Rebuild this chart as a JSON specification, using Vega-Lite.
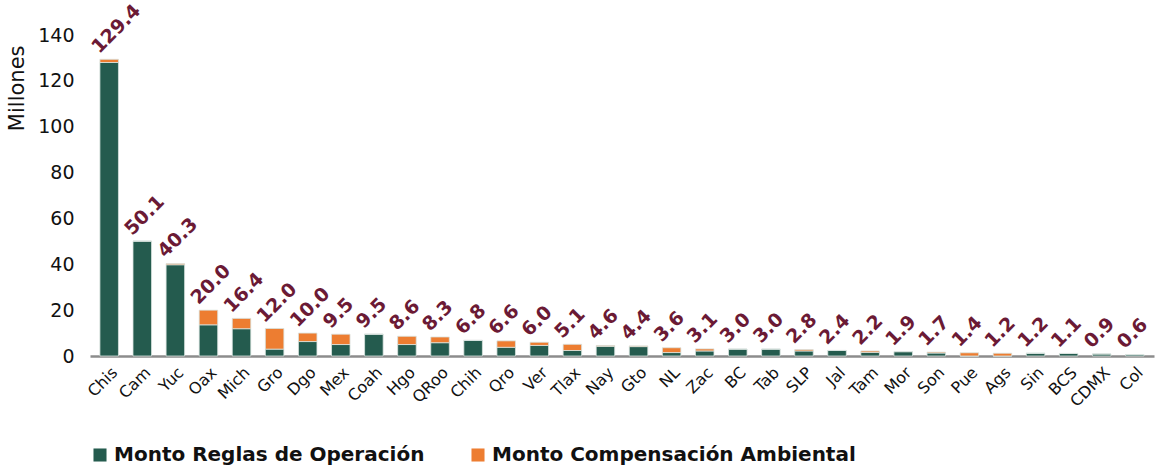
{
  "$schema": "https://vega.github.io/schema/vega-lite/v6.json",
  "width": 1064,
  "height": 321,
  "autosize": {"type": "none"},
  "padding": {"left": 90, "top": 35, "right": 5, "bottom": 114},
  "background": "white",
  "config": {
    "view": {"stroke": null},
    "font": "DejaVu Sans"
  },
  "data": {
    "values": [
      {"estado": "Chis", "Monto Reglas de Operación": 128.0, "Monto  Compensación Ambiental": 1.4, "total": 129.4},
      {"estado": "Cam", "Monto Reglas de Operación": 50.1, "Monto  Compensación Ambiental": 0, "total": 50.1},
      {"estado": "Yuc", "Monto Reglas de Operación": 39.8, "Monto  Compensación Ambiental": 0.5, "total": 40.3},
      {"estado": "Oax", "Monto Reglas de Operación": 13.6, "Monto  Compensación Ambiental": 6.4, "total": 20.0},
      {"estado": "Mich", "Monto Reglas de Operación": 11.9, "Monto  Compensación Ambiental": 4.5, "total": 16.4},
      {"estado": "Gro", "Monto Reglas de Operación": 3.0, "Monto  Compensación Ambiental": 9.0, "total": 12.0},
      {"estado": "Dgo", "Monto Reglas de Operación": 6.3, "Monto  Compensación Ambiental": 3.7, "total": 10.0},
      {"estado": "Mex", "Monto Reglas de Operación": 5.0, "Monto  Compensación Ambiental": 4.5, "total": 9.5},
      {"estado": "Coah", "Monto Reglas de Operación": 9.5, "Monto  Compensación Ambiental": 0, "total": 9.5},
      {"estado": "Hgo", "Monto Reglas de Operación": 5.0, "Monto  Compensación Ambiental": 3.6, "total": 8.6},
      {"estado": "QRoo", "Monto Reglas de Operación": 5.8, "Monto  Compensación Ambiental": 2.5, "total": 8.3},
      {"estado": "Chih", "Monto Reglas de Operación": 6.8, "Monto  Compensación Ambiental": 0, "total": 6.8},
      {"estado": "Qro", "Monto Reglas de Operación": 3.8, "Monto  Compensación Ambiental": 2.8, "total": 6.6},
      {"estado": "Ver", "Monto Reglas de Operación": 4.6, "Monto  Compensación Ambiental": 1.4, "total": 6.0},
      {"estado": "Tlax", "Monto Reglas de Operación": 2.4, "Monto  Compensación Ambiental": 2.7, "total": 5.1},
      {"estado": "Nay", "Monto Reglas de Operación": 4.2, "Monto  Compensación Ambiental": 0.4, "total": 4.6},
      {"estado": "Gto", "Monto Reglas de Operación": 4.1, "Monto  Compensación Ambiental": 0.3, "total": 4.4},
      {"estado": "NL", "Monto Reglas de Operación": 1.5, "Monto  Compensación Ambiental": 2.1, "total": 3.6},
      {"estado": "Zac", "Monto Reglas de Operación": 2.2, "Monto  Compensación Ambiental": 0.9, "total": 3.1},
      {"estado": "BC", "Monto Reglas de Operación": 3.0, "Monto  Compensación Ambiental": 0, "total": 3.0},
      {"estado": "Tab", "Monto Reglas de Operación": 3.0, "Monto  Compensación Ambiental": 0, "total": 3.0},
      {"estado": "SLP", "Monto Reglas de Operación": 2.2, "Monto  Compensación Ambiental": 0.6, "total": 2.8},
      {"estado": "Jal", "Monto Reglas de Operación": 2.4, "Monto  Compensación Ambiental": 0, "total": 2.4},
      {"estado": "Tam", "Monto Reglas de Operación": 1.6, "Monto  Compensación Ambiental": 0.6, "total": 2.2},
      {"estado": "Mor", "Monto Reglas de Operación": 1.9, "Monto  Compensación Ambiental": 0, "total": 1.9},
      {"estado": "Son", "Monto Reglas de Operación": 1.3, "Monto  Compensación Ambiental": 0.4, "total": 1.7},
      {"estado": "Pue", "Monto Reglas de Operación": 0, "Monto  Compensación Ambiental": 1.4, "total": 1.4},
      {"estado": "Ags", "Monto Reglas de Operación": 0, "Monto  Compensación Ambiental": 1.2, "total": 1.2},
      {"estado": "Sin", "Monto Reglas de Operación": 1.2, "Monto  Compensación Ambiental": 0, "total": 1.2},
      {"estado": "BCS", "Monto Reglas de Operación": 1.1, "Monto  Compensación Ambiental": 0, "total": 1.1},
      {"estado": "CDMX", "Monto Reglas de Operación": 0.9, "Monto  Compensación Ambiental": 0, "total": 0.9},
      {"estado": "Col", "Monto Reglas de Operación": 0.6, "Monto  Compensación Ambiental": 0, "total": 0.6}
    ]
  },
  "encoding": {
    "x": {
      "field": "estado",
      "type": "nominal",
      "sort": null,
      "scale": {"paddingInner": 0.44, "paddingOuter": 0.3},
      "axis": {
        "title": null,
        "labelAngle": -45,
        "labelFontSize": 16,
        "labelColor": "#111111",
        "labelPadding": 8,
        "ticks": false,
        "domainColor": "#8c8c8c",
        "domainWidth": 2.5
      }
    }
  },
  "layer": [
    {
      "transform": [
        {"fold": ["Monto Reglas de Operación", "Monto  Compensación Ambiental"], "as": ["serie", "valor"]}
      ],
      "mark": {"type": "bar", "stroke": "#d9e3df", "strokeWidth": 0.8},
      "encoding": {
        "y": {
          "field": "valor",
          "type": "quantitative",
          "stack": "zero",
          "scale": {"domain": [0, 140]},
          "axis": {
            "title": "Millones",
            "titleFontSize": 21,
            "titleFontWeight": "normal",
            "titleColor": "#111111",
            "titleAnchor": "end",
            "titleY": 10,
            "titlePadding": 10,
            "values": [0, 20, 40, 60, 80, 100, 120, 140],
            "labelFontSize": 19,
            "labelColor": "#111111",
            "labelPadding": 16,
            "domain": false,
            "ticks": false,
            "grid": false
          }
        },
        "color": {
          "field": "serie",
          "type": "nominal",
          "scale": {
            "domain": ["Monto Reglas de Operación", "Monto  Compensación Ambiental"],
            "range": ["#245B4E", "#ED7D31"]
          },
          "legend": {
            "title": null,
            "orient": "none",
            "direction": "horizontal",
            "legendX": 0,
            "legendY": 410,
            "symbolType": "square",
            "symbolSize": 170,
            "symbolStrokeWidth": 0,
            "labelFontSize": 20,
            "labelFontWeight": "bold",
            "labelColor": "#111111",
            "labelLimit": 500,
            "labelOffset": 4,
            "columnPadding": 43,
            "symbolOffset": 0
          }
        },
        "order": {"field": "serie", "sort": "descending"}
      }
    },
    {
      "mark": {
        "type": "text",
        "angle": -45,
        "align": "left",
        "baseline": "alphabetic",
        "fontSize": 19,
        "fontWeight": "bold",
        "color": "#6B1A35",
        "xOffset": -10,
        "yOffset": -5
      },
      "encoding": {
        "y": {"field": "total", "type": "quantitative"},
        "text": {"field": "total", "type": "quantitative", "format": ".1f"}
      }
    }
  ]
}
